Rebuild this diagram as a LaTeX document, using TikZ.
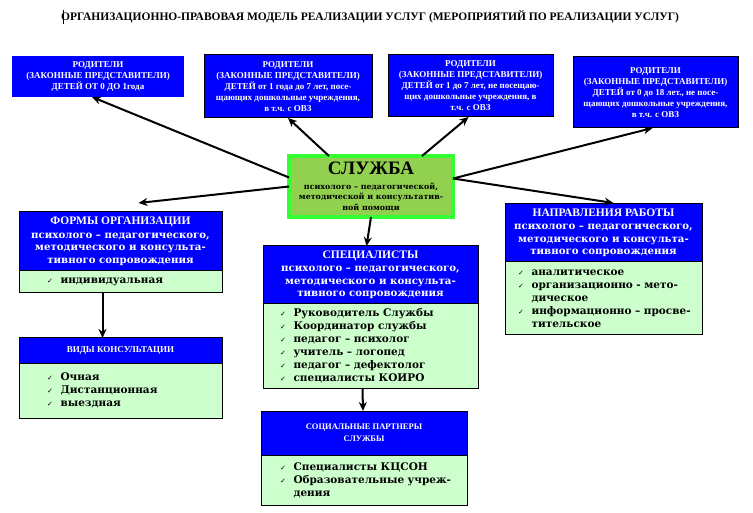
\documentclass[tikz,border=0pt]{standalone}
\usepackage{fontspec}
\setmainfont{Liberation Serif}
\newfontfamily\widefont{DejaVu Serif}
\newfontfamily\chkfont{DejaVu Sans}
\usepackage{tikz}
\usetikzlibrary{arrows.meta, positioning, calc}
\definecolor{hdrblue}{RGB}{0,0,255}
\definecolor{bodygreen}{RGB}{204,255,204}
\definecolor{svcfill}{RGB}{146,208,80}
\definecolor{svcframe}{RGB}{51,255,51}
\newcommand{\chkline}[1]{\mbox{\makebox[13.5pt][l]{\chkfont\fontsize{7}{7}\selectfont ✓}#1}}
\newcommand{\contline}[1]{\mbox{\hspace*{13.5pt}#1}}
\newcommand{\hdrtitle}{\rmfamily\bfseries\fontsize{11.5}{13}\selectfont}
\tikzset{
  parentbox/.style={rectangle, draw=black, fill=hdrblue, text=white,
    line width=1pt, align=center, inner sep=0pt, outer sep=0pt,
    font=\bfseries\fontsize{9}{11}\selectfont},
  hdrbox/.style={rectangle, draw=black, fill=hdrblue, text=white,
    line width=1pt, align=center, inner sep=0pt, outer sep=0pt,
    font=\widefont\bfseries\fontsize{10.2}{12.5}\selectfont},
  bodybox/.style={rectangle, draw=black, fill=bodygreen, align=left,
    line width=1pt, inner ysep=0pt, outer sep=0pt,
    font=\widefont\bfseries\fontsize{10.5}{13}\selectfont},
  svcbox/.style={rectangle, draw=svcframe, fill=svcfill, line width=4pt,
    align=center, inner sep=0pt, outer sep=0pt,
    font=\widefont\bfseries\fontsize{7.9}{10.3}\selectfont},
  arrow/.style={-{Stealth[length=9pt, width=8pt]}, line width=2pt, color=black}
}
\begin{document}
\begin{tikzpicture}[x=1pt, y=-1pt]
  \fill[white] (0,0) rectangle (753,513);
  \useasboundingbox (0,0) rectangle (753,513);

  % Title
  \draw[line width=1pt] (63,10) -- (63,24);
  \node[font=\bfseries\fontsize{11.5}{14}\selectfont] (title) at (370,17)
    {ОРГАНИЗАЦИОННО-ПРАВОВАЯ МОДЕЛЬ РЕАЛИЗАЦИИ УСЛУГ (МЕРОПРИЯТИЙ ПО РЕАЛИЗАЦИИ УСЛУГ)};

  % Parents
  \node[parentbox, draw=none, minimum width=172, minimum height=41] (p1) at (98,76.5)
    {РОДИТЕЛИ\\(ЗАКОННЫЕ ПРЕДСТАВИТЕЛИ)\\ДЕТЕЙ ОТ 0 ДО 1года};
  \node[parentbox, minimum width=168, minimum height=63] (p2) at (288,86.5)
    {РОДИТЕЛИ\\(ЗАКОННЫЕ ПРЕДСТАВИТЕЛИ)\\ДЕТЕЙ от 1 года до 7 лет, посе-\\щающих дошкольные учреждения,\\в т.ч. с ОВЗ};
  \node[parentbox, minimum width=165, minimum height=62] (p3) at (470.5,86)
    {РОДИТЕЛИ\\(ЗАКОННЫЕ ПРЕДСТАВИТЕЛИ)\\ДЕТЕЙ от 1 до 7 лет, не посещаю-\\щих дошкольные учреждения, в\\т.ч. с ОВЗ};
  \node[parentbox, minimum width=165, minimum height=71] (p4) at (655.5,92.5)
    {РОДИТЕЛИ\\(ЗАКОННЫЕ ПРЕДСТАВИТЕЛИ)\\ДЕТЕЙ от 0 до 18 лет., не посе-\\щающих дошкольные учреждения,\\в т.ч. с ОВЗ};

  % Service
  \node[svcbox, minimum width=164, minimum height=61] (svc) at (371,186.5)
    {{\rmfamily\fontsize{19}{20}\selectfont СЛУЖБА}\\[5pt]психолого – педагогической,\\методической и консультатив-\\ной помощи};

  % Forms
  \node[hdrbox, minimum width=203, minimum height=59] (forms) at (120.5,241.5)
    {{\hdrtitle ФОРМЫ ОРГАНИЗАЦИИ}\\[1pt]психолого – педагогического,\\методического и консульта-\\тивного сопровождения};
  \node[bodybox, below=0pt of forms, inner xsep=28pt, text width=147pt, minimum height=22] (forms-b)
    {\chkline{индивидуальная}};
  \node[hdrbox, minimum width=203, minimum height=25, font=\bfseries\fontsize{9}{11}\selectfont] (vidy) at (120.5,350.5)
    {ВИДЫ КОНСУЛЬТАЦИИ};
  \node[bodybox, below=0pt of vidy, inner xsep=28pt, text width=147pt, minimum height=55] (vidy-b)
    {\chkline{Очная}\\\chkline{Дистанционная}\\\chkline{выездная}};

  % Specialists
  \node[hdrbox, minimum width=215, minimum height=58] (spec) at (370.5,275)
    {{\hdrtitle СПЕЦИАЛИСТЫ}\\[1pt]психолого – педагогического,\\методического и консульта-\\тивного сопровождения};
  \node[bodybox, below=0pt of spec, inner xsep=17pt, text width=181pt, minimum height=84] (spec-b)
    {\chkline{Руководитель Службы}\\\chkline{Координатор службы}\\\chkline{педагог – психолог}\\\chkline{учитель – логопед}\\\chkline{педагог – дефектолог}\\\chkline{специалисты КОИРО}};
  \node[hdrbox, minimum width=206, minimum height=44, font=\bfseries\fontsize{8.5}{12}\selectfont] (soc) at (364,433)
    {СОЦИАЛЬНЫЕ ПАРТНЕРЫ\\СЛУЖБЫ};
  \node[bodybox, below=0pt of soc, inner xsep=19pt, text width=168pt, minimum height=50] (soc-b)
    {\chkline{Специалисты КЦСОН}\\\chkline{Образовательные учреж-}\\\contline{дения}};

  % Directions
  \node[hdrbox, minimum width=197, minimum height=58] (dir) at (603.5,233)
    {{\hdrtitle НАПРАВЛЕНИЯ РАБОТЫ}\\[1pt]психолого – педагогического,\\методического и консульта-\\тивного сопровождения};
  \node[bodybox, below=0pt of dir, inner xsep=13pt, text width=171pt, minimum height=73] (dir-b)
    {\chkline{аналитическое}\\\chkline{организационно - мето-}\\\contline{дическое}\\\chkline{информационно – просве-}\\\contline{тительское}};

  % Arrows
  \draw[arrow] ($(svc.west)+(0,-9)$) -- ($(p1.south)+(-6,0)$);
  \draw[arrow] ($(svc.north)+(-42,0)$) -- (p2.south);
  \draw[arrow] ($(svc.north)+(51,0)$) -- ($(p3.south)+(-2,0)$);
  \draw[arrow] ($(svc.east)+(0,-8)$) -- ($(p4.south)+(-3,0)$);
  \draw[arrow] (svc.west) -- ($(forms.north)+(18,-9)$);
  \draw[arrow] ($(svc.east)+(0,-8)$) -- ($(dir.north)+(10,-1)$);
  \draw[arrow] (svc.south) -- ($(spec.north)+(-4,0)$);
  \draw[arrow] ($(forms-b.south)+(-18,0)$) -- ($(vidy.north)+(-18,0)$);
  \draw[arrow] ($(spec-b.south)+(-8,0)$) -- ($(soc.north)+(-1,0)$);
\end{tikzpicture}
\end{document}
